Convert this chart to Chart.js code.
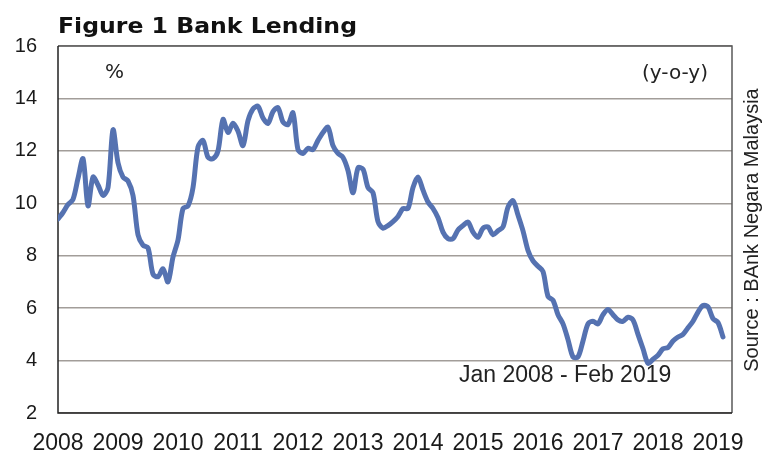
<!DOCTYPE html>
<html>
<head>
<meta charset="utf-8">
<script src="https://cdn.jsdelivr.net/npm/chart.js@4"></script>
<style>
  html, body { margin: 0; padding: 0; background: #ffffff; }
  #wrap { width: 762px; height: 453px; position: relative; }
</style>
</head>
<body>
<div id="wrap"><canvas id="c" width="762" height="453"></canvas></div>
<script>
// ---- Data (monthly, Jan 2008 - Feb 2019, % y-o-y) ----
const titleText = 'Figure 1 Bank Lending';
const unitText = '%';
const basisText = '(y-o-y)';
const periodText = 'Jan 2008 - Feb 2019';
const sourceText = 'Source : BAnk Negara Malaysia';
const yearLabels = ['2008','2009','2010','2011','2012','2013','2014','2015','2016','2017','2018','2019'];
const yTicks = [2, 4, 6, 8, 10, 12, 14, 16];
const lending = [
  9.4, 9.65, 9.95, 10.15, 10.95, 11.7, 9.9, 11.0, 10.7, 10.3, 10.6, 12.8,      // 2008
  11.55, 11.0, 10.85, 10.3, 8.8, 8.4, 8.3, 7.3, 7.2, 7.5, 7.0, 7.95,            // 2009
  8.6, 9.8, 9.9, 10.6, 12.15, 12.4, 11.75, 11.7, 12.0, 13.2, 12.7, 13.05,       // 2010
  12.75, 12.2, 13.15, 13.6, 13.7, 13.25, 13.05, 13.5, 13.65, 13.1, 13.0, 13.45, // 2011
  12.05, 11.9, 12.1, 12.05, 12.4, 12.7, 12.9, 12.2, 11.9, 11.75, 11.25, 10.4,   // 2012
  11.35, 11.3, 10.6, 10.4, 9.3, 9.05, 9.15, 9.3, 9.5, 9.8, 9.8, 10.6,           // 2013
  11.0, 10.5, 10.05, 9.8, 9.45, 8.9, 8.65, 8.65, 8.98, 9.15, 9.28, 8.9,         // 2014
  8.7, 9.05, 9.1, 8.8, 8.95, 9.1, 9.85, 10.1, 9.55, 8.95, 8.2, 7.8,             // 2015
  7.6, 7.4, 6.45, 6.3, 5.75, 5.4, 4.8, 4.14, 4.14, 4.75, 5.4, 5.5,              // 2016
  5.4, 5.75, 5.95, 5.75, 5.55, 5.5, 5.65, 5.55, 5.0, 4.45, 3.9, 4.05,           // 2017
  4.2, 4.45, 4.5, 4.75, 4.9, 5.0, 5.25, 5.5, 5.85, 6.1, 6.05, 5.6,              // 2018
  5.45, 4.9                                                                      // 2019
];

const points = lending.map((v, i) => ({ x: i, y: v }));

const decor = {
  id: 'decor',
  beforeDatasetsDraw(chart) {
    const { ctx, chartArea: a } = chart;
    ctx.save();
    ctx.lineWidth = 1.5;
    ctx.strokeStyle = '#5a5a5a';
    ctx.beginPath();
    ctx.moveTo(a.left, a.top); ctx.lineTo(a.right, a.top); ctx.lineTo(a.right, a.bottom);
    ctx.stroke();
    ctx.strokeStyle = '#222222';
    ctx.beginPath();
    ctx.moveTo(a.left, a.top); ctx.lineTo(a.left, a.bottom); ctx.lineTo(a.right, a.bottom);
    ctx.stroke();
    ctx.restore();
  },
  afterDraw(chart) {
    const { ctx, chartArea: a } = chart;
    ctx.save();
    // Title (heavy, slightly wide)
    ctx.fillStyle = '#111111';
    ctx.font = 'bold 21px "DejaVu Sans"';
    ctx.textBaseline = 'alphabetic';
    ctx.textAlign = 'left';
    const tw = ctx.measureText(titleText).width;
    ctx.save();
    ctx.translate(a.left, 33);
    ctx.scale(299 / tw, 1);
    ctx.fillText(titleText, 0, 0);
    ctx.restore();

    ctx.fillStyle = '#222222';
    ctx.font = '20px "DejaVu Sans"';
    ctx.textBaseline = 'middle';
    ctx.fillText(unitText, a.left + 47, 73);
    ctx.textAlign = 'right';
    ctx.fillText(basisText, a.right - 24, 74);

    ctx.font = '23px "Liberation Sans"';
    ctx.textAlign = 'left';
    ctx.textBaseline = 'alphabetic';
    ctx.fillText(periodText, 459, 382);

    ctx.save();
    ctx.translate(752, 230);
    ctx.rotate(-Math.PI / 2);
    ctx.font = '20px "Liberation Sans"';
    ctx.textAlign = 'center';
    ctx.textBaseline = 'middle';
    ctx.fillText(sourceText, 0, 0);
    ctx.restore();
    ctx.restore();
  }
};

new Chart(document.getElementById('c'), {
  type: 'line',
  data: {
    datasets: [{
      data: points,
      borderColor: '#5572b1',
      borderWidth: 5,
      pointRadius: 0,
      tension: 0.3,
      borderJoinStyle: 'round',
      borderCapStyle: 'round',
      fill: false
    }]
  },
  options: {
    responsive: false,
    animation: false,
    devicePixelRatio: 1,
    layout: { padding: { top: 46, right: 30, left: 0, bottom: 0 } },
    plugins: { legend: { display: false }, tooltip: { enabled: false }, title: { display: false } },
    scales: {
      x: {
        type: 'linear',
        min: 0,
        max: 134.8,
        afterBuildTicks: (s) => { s.ticks = yearLabels.map((y, k) => ({ value: k * 12 })); },
        afterFit: (s) => { s.height = 40; },
        grid: { display: false, drawTicks: false },
        border: { display: false },
        ticks: {
          autoSkip: false,
          maxRotation: 0,
          padding: 17,
          color: '#1a1a1a',
          font: { family: '"Liberation Sans", Arial', size: 23 },
          callback: (v) => yearLabels[Math.round(v / 12)]
        }
      },
      y: {
        min: 2,
        max: 16,
        afterBuildTicks: (s) => { s.ticks = yTicks.map(v => ({ value: v })); },
        afterFit: (s) => { s.width = 58; },
        grid: { color: '#a29d99', lineWidth: 1.5, drawTicks: false },
        border: { display: false },
        ticks: {
          padding: 21,
          color: '#1a1a1a',
          font: { family: '"Liberation Sans", Arial', size: 20 }
        }
      }
    }
  },
  plugins: [decor]
});
</script>
</body>
</html>
